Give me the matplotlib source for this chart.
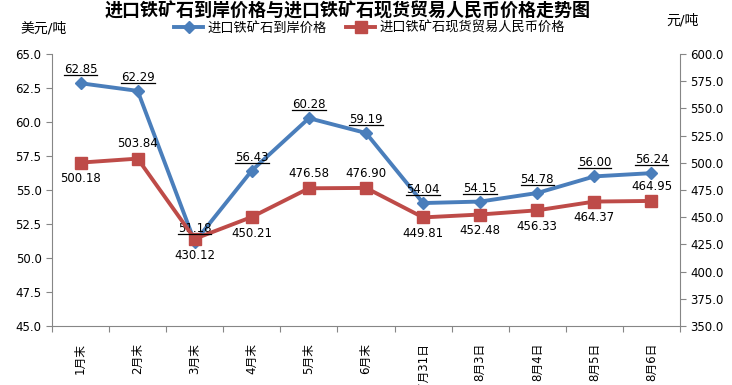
import matplotlib
matplotlib.use("Agg")
import matplotlib.pyplot as plt
from matplotlib.ticker import MultipleLocator, FormatStrFormatter
from matplotlib.lines import Line2D

plt.rcParams['font.family'] = ['DejaVu Sans', 'Noto Sans CJK SC']

categories = ['1月末', '2月末', '3月末', '4月末', '5月末', '6月末', '7月31日', '8月3日', '8月4日', '8月5日', '8月6日']
usd_price = [62.85, 62.29, 51.18, 56.43, 60.28, 59.19, 54.04, 54.15, 54.78, 56.00, 56.24]
rmb_price = [500.18, 503.84, 430.12, 450.21, 476.58, 476.90, 449.81, 452.48, 456.33, 464.37, 464.95]
rmb_label_above = [False, True, False, False, True, True, False, False, False, False, True]

title = '进口铁矿石到岸价格与进口铁矿石现货贸易人民币价格走势图'
name_usd = '进口铁矿石到岸价格'
name_rmb = '进口铁矿石现货贸易人民币价格'

blue = '#4A7EBB'
red = '#BE4B48'
grey = '#868686'

W, H = 732, 385
fig = plt.figure(figsize=(W/100, H/100), dpi=100)
ax = fig.add_axes([52/W, 1-326/H, 628/W, 272/H])
ax2 = ax.twinx()

x = list(range(len(categories)))
l1, = ax.plot(x, usd_price, color=blue, lw=2.8, marker='D', ms=6, zorder=3, label=name_usd)
l2, = ax2.plot(x, rmb_price, color=red, lw=2.8, marker='s', ms=8, zorder=3, label=name_rmb)

ax.set_xlim(-0.5, len(categories) - 0.5)
ax.set_ylim(45, 65)
ax2.set_ylim(350, 600)
ax.yaxis.set_major_locator(MultipleLocator(2.5))
ax.yaxis.set_major_formatter(FormatStrFormatter('%.1f'))
ax2.yaxis.set_major_locator(MultipleLocator(25))
ax2.yaxis.set_major_formatter(FormatStrFormatter('%.1f'))

ax.set_xticks([i - 0.5 for i in range(len(categories) + 1)], minor=False)
ax.set_xticklabels([])
ax.set_xticks(x, minor=True)
ax.set_xticklabels(categories, minor=True, rotation=90, fontsize=8.5, va='top', ha='center')
ax.tick_params(axis='x', which='minor', length=0, pad=12)
ax.tick_params(axis='x', which='major', length=4, color=grey, direction='out')
ax.tick_params(axis='y', length=4, color=grey, labelsize=8.5)
ax2.tick_params(axis='y', length=4, color=grey, labelsize=8.5)

for a in (ax, ax2):
    a.spines['top'].set_visible(False)
    for s in ('left', 'right', 'bottom'):
        a.spines[s].set_color(grey)
ax.spines['right'].set_visible(False)
ax2.spines['left'].set_visible(False)
ax2.spines['bottom'].set_visible(False)

usd_texts = []
for i, v in enumerate(usd_price):
    t = ax.annotate('%.2f' % v, (i, v), xytext=(0, 5), textcoords='offset points',
                    ha='center', va='bottom', fontsize=8.5, zorder=5)
    usd_texts.append(t)
for i, v in enumerate(rmb_price):
    if rmb_label_above[i]:
        ax2.annotate('%.2f' % v, (i, v), xytext=(0, 6), textcoords='offset points',
                     ha='center', va='bottom', fontsize=8.5, zorder=5)
    else:
        ax2.annotate('%.2f' % v, (i, v), xytext=(0, -7), textcoords='offset points',
                     ha='center', va='top', fontsize=8.5, zorder=5)

fig.text(0.475, 1-11/H, title, ha='center', va='center', fontsize=13, fontweight='bold')
fig.text(20/W, 1-29/H, '美元/吨', ha='left', va='center', fontsize=10)
fig.text(666/W, 1-20/H, '元/吨', ha='left', va='center', fontsize=10)
fig.legend(handles=[l1, l2], loc='center', bbox_to_anchor=(0.505, 1-28/H), ncol=2,
           frameon=False, fontsize=9.5, handlelength=2.2, columnspacing=1.5, handletextpad=0.3)

# underline the blue data labels
fig.canvas.draw()
r = fig.canvas.get_renderer()
for t in usd_texts:
    bb = t.get_window_extent(r)
    yb = bb.y0 + 1
    fig.add_artist(Line2D([bb.x0/W, bb.x1/W], [yb/H, yb/H], color='black', lw=0.9,
                          transform=fig.transFigure))

fig.savefig('out.png', dpi=100)
